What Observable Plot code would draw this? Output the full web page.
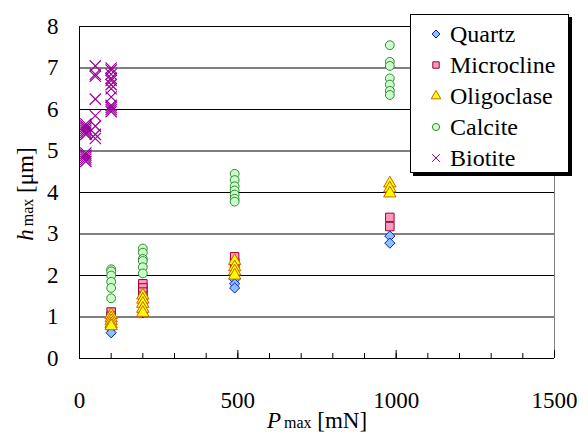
<!DOCTYPE html>
<html><head><meta charset="utf-8">
<script src="https://cdn.jsdelivr.net/npm/d3@7"></script>
<script src="https://cdn.jsdelivr.net/npm/@observablehq/plot@0.6"></script>
<style>
html,body{margin:0;padding:0;background:#fff;}
#wrap{position:relative;width:588px;height:443px;font-family:"Liberation Serif","Times New Roman",serif;}
#legend{position:absolute;left:410px;top:14px;width:159px;height:159px;background:#fff;border:1px solid #000;box-shadow:3px 3px 0 #000;box-sizing:border-box;padding-top:3px;}
.item{height:31px;display:flex;align-items:center;font-size:24px;line-height:1;}
.item svg{margin-left:18px;margin-right:7px;}
</style></head><body><div id="wrap"></div>
<script>
// ---- data ----
const seriesNames = ["Quartz", "Microcline", "Oligoclase", "Calcite", "Biotite"];

const quartzP = [100, 100, 200, 200, 490, 490, 490, 980, 980];
const quartzH = [0.72, 0.62, 1.15, 1.1, 1.9, 1.8, 1.7, 2.95, 2.78];

const microclineP = [100, 100, 100, 100, 200, 200, 200, 200, 200, 490, 490, 490, 980, 980];
const microclineH = [1.12, 1.02, 0.92, 0.85, 1.8, 1.7, 1.6, 1.5, 1.4, 2.45, 2.3, 2.2, 3.4, 3.18];

const oligoclaseP = [100, 100, 100, 100, 100, 200, 200, 200, 200, 200, 490, 490, 490, 490, 980, 980, 980];
const oligoclaseH = [1.05, 0.97, 0.9, 0.83, 0.78, 1.52, 1.42, 1.32, 1.2, 1.1, 2.35, 2.2, 2.1, 2.0, 4.22, 4.1, 3.98];

const calciteP = [100, 100, 100, 100, 100, 100, 200, 200, 200, 200, 200, 200, 490, 490, 490, 490, 490, 490, 490, 980, 980, 980, 980, 980, 980, 980];
const calciteH = [2.15, 2.1, 2.0, 1.85, 1.7, 1.45, 2.65, 2.55, 2.4, 2.35, 2.2, 2.05, 4.45, 4.3, 4.15, 4.05, 3.95, 3.85, 3.78, 7.55, 7.15, 7.05, 6.75, 6.6, 6.45, 6.35];

const biotiteP = [20, 20, 20, 20, 20, 20, 20, 20, 20, 20, 20, 50, 50, 50, 50, 50, 50, 50, 50, 100, 100, 100, 100, 100, 100, 100, 100, 100, 100, 100, 100];
const biotiteH = [5.65, 5.6, 5.55, 5.5, 5.45, 5.4, 4.95, 4.9, 4.85, 4.8, 4.75, 7.05, 6.85, 6.8, 6.25, 5.85, 5.6, 5.4, 5.3, 7.0, 6.95, 6.85, 6.75, 6.7, 6.6, 6.5, 6.3, 6.1, 6.05, 6.0, 5.95];

const xTickLabels = [0, 500, 1000, 1500];
const yTickLabels = [0, 1, 2, 3, 4, 5, 6, 7, 8];

// ---- styles ----
const FONT = "'Liberation Serif','Times New Roman',serif";
const styles = {
  Quartz:     {symbol: "diamond2", fill: "#8fbfff", stroke: "#0022bb", r: 4.6},
  Microcline: {symbol: "square",   fill: "#ff99c2", stroke: "#990033", r: 4.8},
  Oligoclase: {symbol: "triangle", fill: "#ffff00", stroke: "#cc6600", r: 4.6},
  Calcite:    {symbol: "circle",   fill: "#ccffcc", stroke: "#2f8a2f", r: 4.4},
  Biotite:    {symbol: "times",    fill: "none",    stroke: "#990099", r: 5.2}
};
const seriesData = {
  Quartz: [quartzP, quartzH],
  Microcline: [microclineP, microclineH],
  Oligoclase: [oligoclaseP, oligoclaseH],
  Calcite: [calciteP, calciteH],
  Biotite: [biotiteP, biotiteH]
};
const rows = name => seriesData[name][0].map((p, i) => ({p, h: seriesData[name][1][i]}));

const dotMarks = seriesNames.map(name => {
  const s = styles[name];
  return Plot.dot(rows(name), {
    x: "p", y: "h", symbol: () => s.symbol, r: s.r,
    fill: s.fill, stroke: s.stroke, strokeWidth: name === "Biotite" ? 1.2 : 1
  });
});

const chart = Plot.plot({
  width: 588, height: 443,
  marginLeft: 79, marginRight: 34, marginTop: 26, marginBottom: 85,
  style: {fontFamily: FONT, fontSize: "23px", background: "#fff", color: "#000"},
  x: {domain: [0, 1500], label: null},
  y: {domain: [0, 8], label: null},
  symbol: {type: "identity"},
  marks: [
    Plot.gridY(yTickLabels.slice(1, -1), {stroke: "#000", strokeOpacity: 1, strokeWidth: 1}),
    Plot.ruleX([1500], {stroke: "#808080"}),
    Plot.ruleY([8], {stroke: "#000"}),
    Plot.ruleX([0], {stroke: "#000"}),
    Plot.ruleY([0], {stroke: "#000"}),
    Plot.axisX(d3.range(0, 1501, 100), {tickSize: -5, tickFormat: () => "", stroke: "#000", label: null}),
    Plot.axisX(xTickLabels, {tickSize: -8, tickPadding: 41, tickFormat: d => String(d), stroke: "#000", fontSize: 23, label: null}),
    Plot.axisY(yTickLabels, {tickSize: 0, tickPadding: 21, fontSize: 23, label: null}),
    ...dotMarks
  ]
});

const wrap = document.getElementById("wrap");
wrap.appendChild(chart);

// axis titles with italics and subscripts
const svg = d3.select(chart);
const xt = svg.append("text")
  .attr("x", 317).attr("y", 428).attr("text-anchor", "middle")
  .attr("font-family", FONT).attr("fill", "#000");
xt.append("tspan").attr("font-style", "italic").attr("font-size", 23).text("P");
xt.append("tspan").attr("font-size", 16).attr("dx", 3).text("max");
xt.append("tspan").attr("font-size", 23).text(" [mN]");

const yt = svg.append("text")
  .attr("transform", "translate(33,194) rotate(-90)").attr("text-anchor", "middle")
  .attr("font-family", FONT).attr("fill", "#000");
yt.append("tspan").attr("font-style", "italic").attr("font-size", 23).text("h");
yt.append("tspan").attr("font-size", 16).attr("dx", 3).text("max");
yt.append("tspan").attr("font-size", 23).text(" [\u03bcm]");

// legend
const legend = document.createElement("div");
legend.id = "legend";
seriesNames.forEach(name => {
  const s = styles[name];
  const item = document.createElement("div");
  item.className = "item";
  const sym = {diamond2: d3.symbolDiamond2, square: d3.symbolSquare, triangle: d3.symbolTriangle, circle: d3.symbolCircle, times: d3.symbolTimes}[s.symbol];
  const size = Math.PI * 3.6 * 3.6;
  item.innerHTML = `<svg width="14" height="14" viewBox="-7 -7 14 14"><path d="${d3.symbol(sym, size)()}" fill="${s.fill}" stroke="${s.stroke}" stroke-width="1"/></svg><span>${name}</span>`;
  legend.appendChild(item);
});
wrap.appendChild(legend);
</script>
</body></html>
